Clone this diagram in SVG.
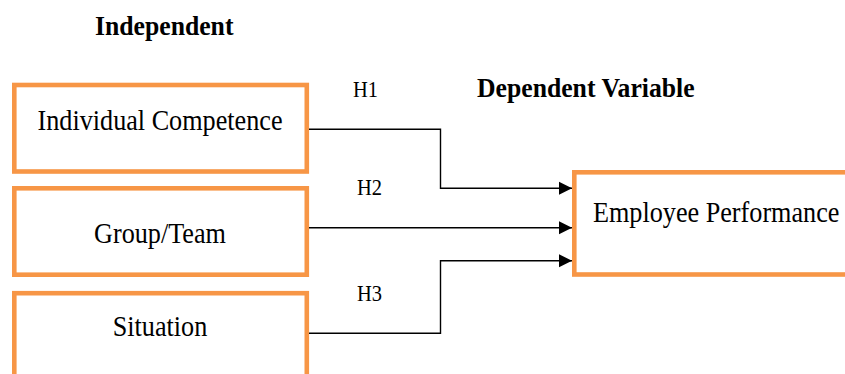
<svg xmlns="http://www.w3.org/2000/svg" width="845" height="374" viewBox="0 0 845 374">
<defs>
<style>
.box{fill:#fff;stroke:#F79646;stroke-width:4.6}
.t{font-family:"Liberation Serif","Times New Roman",serif;fill:#000}
.r{font-size:26.2px}
.b{font-size:25.7px;font-weight:bold}
.h{font-size:20.5px}
.c{text-anchor:middle}
.ln{fill:none;stroke:#000;stroke-width:1.4}
</style>
<marker id="arr" markerUnits="userSpaceOnUse" markerWidth="14" markerHeight="14" refX="13" refY="7" orient="auto">
<path d="M0,0.5 L13,7 L0,13.5 Z" fill="#000"/>
</marker>
</defs>
<rect width="845" height="374" fill="#fff"/>
<text class="t b" transform="translate(95,35) scale(1,1.1)">Independent</text>
<text class="t b" transform="translate(477,97) scale(1,1.1)">Dependent Variable</text>
<text class="t h" transform="translate(353,97) scale(1,1.1)">H1</text>
<text class="t h" transform="translate(357,195) scale(1,1.1)">H2</text>
<text class="t h" transform="translate(357,301) scale(1,1.1)">H3</text>
<g id="node-competence">
<rect class="box" x="14.3" y="85" width="292.5" height="86.5"/>
<text class="t r c" transform="translate(160,129.5) scale(1,1.12)">Individual Competence</text>
</g>
<g id="node-team">
<rect class="box" x="14.3" y="188.3" width="292.5" height="86.4"/>
<text class="t r c" transform="translate(160,242.5) scale(1,1.12)">Group/Team</text>
</g>
<g id="node-situation">
<rect class="box" x="14.3" y="293.2" width="292.5" height="100"/>
<text class="t r c" transform="translate(160,336) scale(1,1.12)">Situation</text>
</g>
<g id="node-performance">
<rect class="box" x="574.3" y="172.3" width="300" height="102.2"/>
<text class="t r" transform="translate(593,221.7) scale(1,1.12)">Employee Performance</text>
</g>
<g id="connectors">
<polyline class="ln" points="309,129.3 440.5,129.3 440.5,188.3 572,188.3" marker-end="url(#arr)"/>
<polyline class="ln" points="309,227.7 572,227.7" marker-end="url(#arr)"/>
<polyline class="ln" points="309,333.3 440.5,333.3 440.5,260.7 572,260.7" marker-end="url(#arr)"/>
</g>
</svg>
